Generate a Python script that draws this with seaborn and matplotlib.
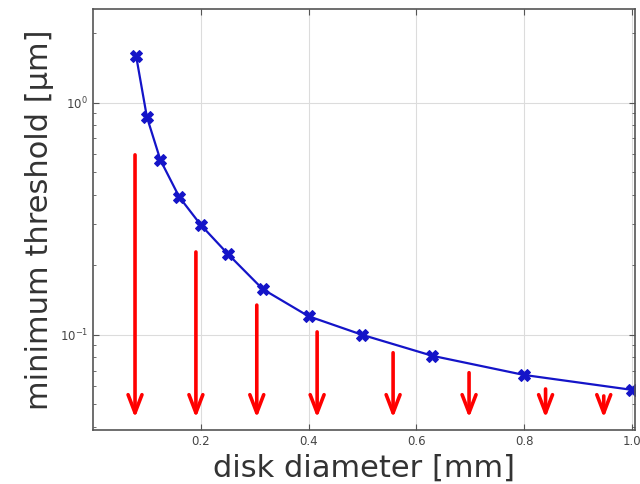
import numpy as np
import matplotlib
matplotlib.use('Agg')
import matplotlib.pyplot as plt
import seaborn as sns

# disk diameter [mm] and minimum threshold [um]
diameter = [0.08, 0.1, 0.125, 0.16, 0.2, 0.25, 0.315, 0.4, 0.5, 0.63, 0.8, 1.0]
threshold = [1.59, 0.867, 0.566, 0.392, 0.297, 0.223, 0.157, 0.120, 0.0997, 0.081, 0.067, 0.0578]

# red arrows: x position, start (top) and tip values
arrow_x = [0.078, 0.191, 0.304, 0.416, 0.557, 0.698, 0.840, 0.948]
arrow_top = [0.595, 0.227, 0.134, 0.1027, 0.0835, 0.0685, 0.0583, 0.0544]
arrow_tip = [0.0438] * 8

sns.set_style('ticks')
plt.rcParams['font.family'] = ['DejaVu Sans']

fig = plt.figure(figsize=(6.4, 4.84), dpi=100)
ax = fig.add_axes([93/640, 1 - 430/484, (635 - 93)/640, (430 - 9)/484])

ax.set_yscale('log')
ax.set_xlim(0, 1.006)
ax.set_ylim(0.0388, 2.53)

ax.grid(True, which='major', color='#dcdcdc', lw=0.8)
ax.set_axisbelow(True)

sns.lineplot(x=diameter, y=threshold, ax=ax, color='#1414c8', lw=1.6,
             marker='X', markersize=9, markeredgecolor='#1414c8')

for x, top, tip in zip(arrow_x, arrow_top, arrow_tip):
    ax.annotate('', xy=(x, tip), xytext=(x, top),
                arrowprops=dict(arrowstyle='->,head_length=1.3,head_width=0.5',
                                color='#ff0000', lw=2.6, mutation_scale=10,
                                shrinkA=0, shrinkB=0))

ax.set_xticks([0.2, 0.4, 0.6, 0.8, 1.0])
ax.set_xticklabels(['0.2', '0.4', '0.6', '0.8', '1.0'])
ax.tick_params(which='both', direction='in', top=True, right=True,
               labelsize=8.5, labelcolor='#444444', color='#555555')
ax.tick_params(which='major', length=4)
ax.tick_params(which='minor', length=2)

for s in ax.spines.values():
    s.set_color('#555555')
    s.set_linewidth(1.2)

ax.set_xlabel('disk diameter [mm]', fontsize=22, color='#333333', labelpad=4)
ax.set_ylabel('minimum threshold [μm]', fontsize=22, color='#333333', labelpad=4)

fig.savefig('out.png', dpi=100)
